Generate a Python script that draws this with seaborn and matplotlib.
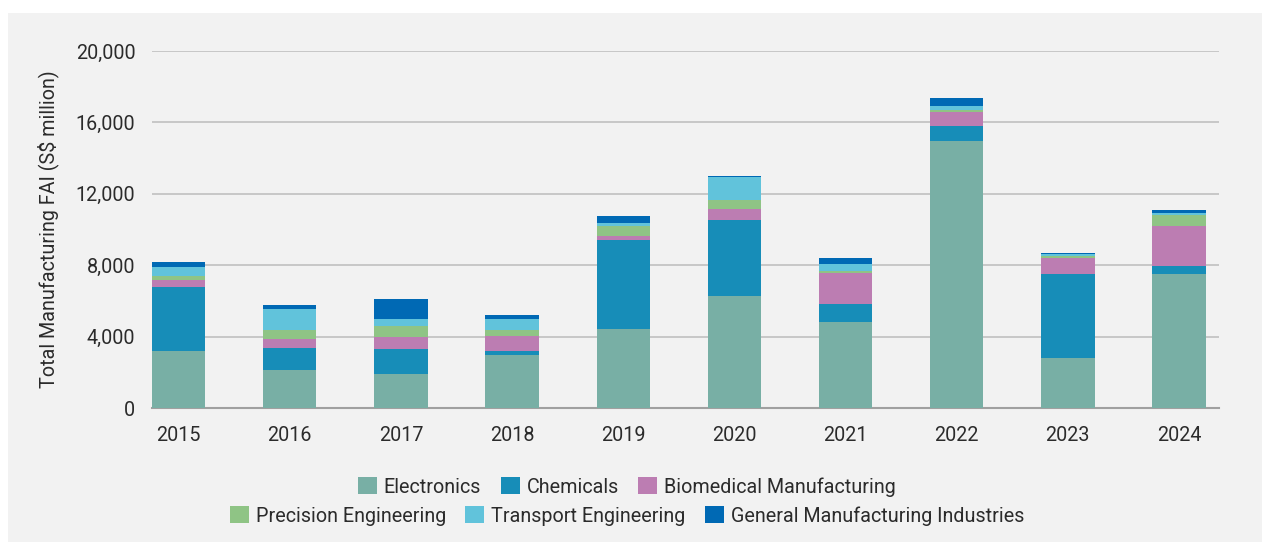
import matplotlib
matplotlib.use("Agg")
import matplotlib.pyplot as plt
import matplotlib.patches as mpatches
import seaborn as sns
import numpy as np
import pandas as pd

# Manufacturing fixed asset investment by cluster, S$ million
years = ["2015", "2016", "2017", "2018", "2019", "2020", "2021", "2022", "2023", "2024"]
electronics = [3210, 2150, 1920, 2990, 4450, 6300, 4840, 14940, 2820, 7530]
chemicals = [3590, 1230, 1400, 220, 4940, 4210, 1010, 840, 4660, 450]
biomedical = [390, 510, 670, 840, 220, 620, 1740, 790, 900, 2190]
precision = [220, 500, 600, 300, 560, 500, 110, 110, 110, 620]
transport = [510, 1180, 410, 660, 220, 1290, 340, 220, 110, 110]
general = [280, 220, 1120, 220, 390, 60, 340, 450, 60, 170]

series = [
    ("Electronics", electronics, "#78afa5"),
    ("Chemicals", chemicals, "#178db8"),
    ("Biomedical Manufacturing", biomedical, "#bc7db2"),
    ("Precision Engineering", precision, "#8fc485"),
    ("Transport Engineering", transport, "#61c3db"),
    ("General Manufacturing Industries", general, "#0069b4"),
]

sns.set_theme(style="white")
plt.rcParams["font.family"] = ["Roboto", "DejaVu Sans"]
text_color = "#2b2b2b"
bg = "#f2f2f2"
fs = 14.2

fig = plt.figure(figsize=(12.62, 5.42), dpi=100, facecolor="white")
fig.patches.append(mpatches.Rectangle((8 / 1262, 0), 1, 1 - 13 / 542,
                                      transform=fig.transFigure,
                                      facecolor=bg, edgecolor="none", zorder=-10))
ax = fig.add_axes([152 / 1262, 1 - 408 / 542, (1219 - 152) / 1262, (408 - 51) / 542])
ax.set_facecolor(bg)

df = pd.DataFrame({"year": years})
bottom = np.zeros(len(years))
for name, vals, color in series:
    df["value"] = vals
    sns.barplot(data=df, x="year", y="value", order=years, color=color,
                width=0.48, bottom=bottom, ax=ax, linewidth=0, saturation=1,
                errorbar=None, zorder=3)
    bottom = bottom + np.array(vals)

ax.set_xlim(-0.24, 9.36)
ax.set_ylim(0, 20000)
ax.set_yticks([0, 4000, 8000, 12000, 16000, 20000])
ax.set_yticklabels(["0", "4,000", "8,000", "12,000", "16,000", "20,000"])
ax.yaxis.grid(True, color="#c4c4c4", linewidth=1.3, zorder=0)
ax.set_axisbelow(True)
for s in ["top", "right", "left"]:
    ax.spines[s].set_visible(False)
ax.spines["bottom"].set_color("#a0a0a0")
ax.spines["bottom"].set_linewidth(1.5)
ax.tick_params(axis="both", length=0, labelsize=fs, labelcolor=text_color)
ax.tick_params(axis="y", pad=12)
ax.tick_params(axis="x", pad=13)
ax.set_xlabel("")
ax.set_ylabel("Total Manufacturing FAI (S$ million)", fontsize=fs,
              color=text_color, labelpad=12)

# Legend in two centred rows
handles = [mpatches.Patch(facecolor=c, edgecolor="none", label=n) for n, _, c in series]
leg_kw = dict(frameon=False, handlelength=0.95, handleheight=0.95,
              handletextpad=0.35, columnspacing=1.0, labelcolor=text_color,
              prop={"size": fs})
leg1 = fig.legend(handles=handles[:3], ncol=3, loc="center",
                  bbox_to_anchor=(627 / 1262, 1 - 487 / 542), **leg_kw)
leg2 = fig.legend(handles=handles[3:], ncol=3, loc="center",
                  bbox_to_anchor=(627 / 1262, 1 - 516 / 542), **leg_kw)

fig.savefig("out.png", dpi=100, facecolor="white")
